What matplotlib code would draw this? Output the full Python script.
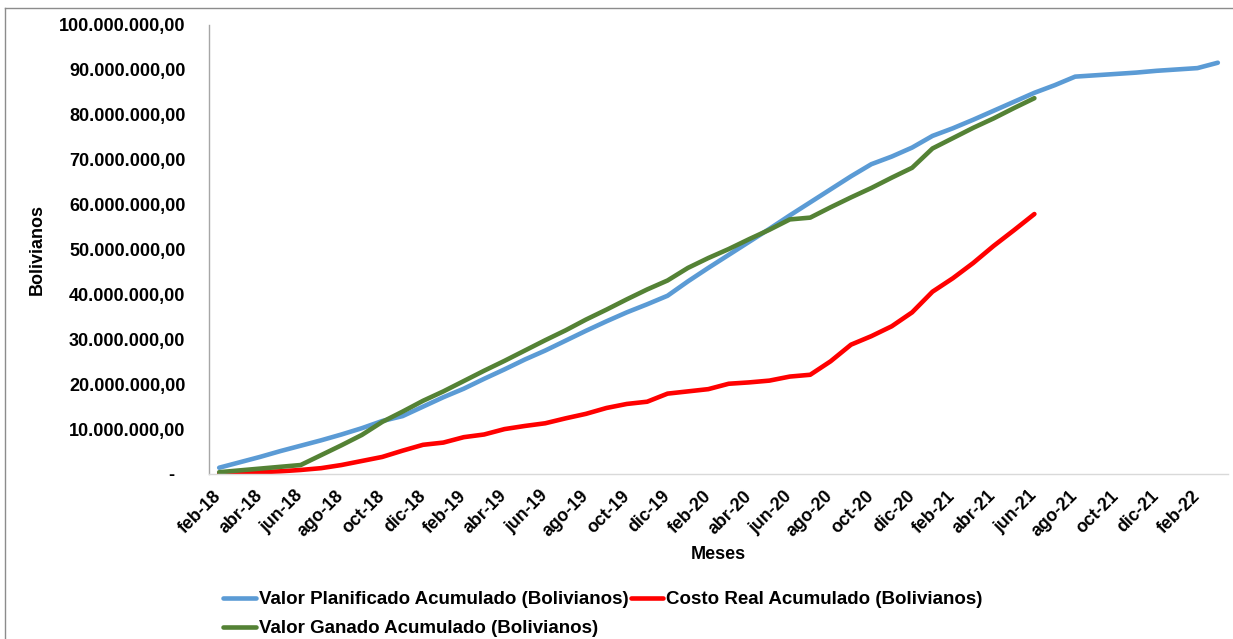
import matplotlib
matplotlib.use("Agg")
import matplotlib.pyplot as plt
from matplotlib.lines import Line2D
from matplotlib.ticker import FuncFormatter, MultipleLocator

# Monthly categories feb-18 .. mar-22
months_es = ["ene", "feb", "mar", "abr", "may", "jun", "jul", "ago", "sep", "oct", "nov", "dic"]
month_labels = []
m, y = 1, 18
for _ in range(50):
    month_labels.append(f"{months_es[m]}-{y}")
    m += 1
    if m == 12:
        m, y = 0, y + 1

# Cumulative values in millions of Bolivianos
valor_planificado = [1.4, 2.6, 3.8, 5.1, 6.3, 7.5, 8.8, 10.2, 11.8, 12.9,
                     15.0, 17.1, 19.0, 21.2, 23.3, 25.5, 27.5, 29.7, 31.9, 34.0,
                     36.0, 37.8, 39.7, 42.9, 45.9, 48.8, 51.7, 54.6, 57.6, 60.5,
                     63.4, 66.3, 69.0, 70.7, 72.7, 75.3, 77.0, 78.9, 80.9, 82.9,
                     84.9, 86.6, 88.5, 88.8, 89.1, 89.4, 89.8, 90.1, 90.4, 91.6]
costo_real = [0.1, 0.2, 0.4, 0.6, 0.9, 1.3, 2.0, 2.9, 3.8, 5.2,
              6.5, 7.0, 8.2, 8.8, 10.0, 10.7, 11.3, 12.4, 13.4, 14.7,
              15.6, 16.1, 17.9, 18.4, 18.9, 20.1, 20.4, 20.8, 21.7, 22.1,
              25.1, 28.8, 30.7, 32.9, 36.0, 40.6, 43.6, 47.0, 50.8, 54.3,
              57.9]
valor_ganado = [0.4, 0.8, 1.2, 1.6, 2.0, 4.2, 6.4, 8.7, 11.6, 13.9,
                16.3, 18.4, 20.7, 23.0, 25.2, 27.5, 29.8, 32.0, 34.4, 36.6,
                38.9, 41.1, 43.1, 45.9, 48.1, 50.1, 52.3, 54.4, 56.7, 57.1,
                59.4, 61.6, 63.7, 66.0, 68.2, 72.5, 74.8, 77.1, 79.2, 81.5,
                83.7]

series_names = ["Valor Planificado Acumulado (Bolivianos)",
                "Costo Real Acumulado (Bolivianos)",
                "Valor Ganado Acumulado (Bolivianos)"]
colors = ["#5B9BD5", "#FF0000", "#548235"]

plt.rcParams["font.family"] = ["Liberation Sans", "DejaVu Sans"]
plt.rcParams["font.weight"] = "bold"

W, H = 1233, 639
fig = plt.figure(figsize=(W / 100, H / 100), dpi=100)
ax = fig.add_axes([209 / W, 1 - 474 / H, (1228 - 209) / W, (474 - 25) / H])

def to_bs(vals):
    return [v * 1e6 for v in vals]

lw = 3.3
l_plan, = ax.plot(range(len(valor_planificado)), to_bs(valor_planificado),
                  color=colors[0], lw=lw, solid_capstyle="round", solid_joinstyle="round")
l_real, = ax.plot(range(len(costo_real)), to_bs(costo_real),
                  color=colors[1], lw=lw, solid_capstyle="round", solid_joinstyle="round")
l_gan, = ax.plot(range(len(valor_ganado)), to_bs(valor_ganado),
                 color=colors[2], lw=lw, solid_capstyle="round", solid_joinstyle="round")

ax.set_xlim(-0.5, len(month_labels) - 0.5)
ax.set_ylim(0, 100e6)

def fmt_bs(v, pos):
    if abs(v) < 1:
        return "-  "
    s = f"{v:,.2f}"
    return s.replace(",", "X").replace(".", ",").replace("X", ".")

ax.yaxis.set_major_locator(MultipleLocator(10e6))
ax.yaxis.set_major_formatter(FuncFormatter(fmt_bs))
ax.tick_params(axis="y", length=0, pad=17, labelsize=13)

tick_pos = list(range(0, len(month_labels), 2))
ax.set_xticks(tick_pos)
ax.set_xticklabels([month_labels[i] for i in tick_pos], rotation=45,
                   ha="right", va="center", rotation_mode="anchor")
ax.tick_params(axis="x", length=0, pad=14, labelsize=12.8)

for side in ["top", "right"]:
    ax.spines[side].set_visible(False)
ax.spines["left"].set_color("#A6A6A6")
ax.spines["left"].set_linewidth(1.0)
ax.spines["bottom"].set_color("#D9D9D9")
ax.spines["bottom"].set_linewidth(1.0)

ax.set_ylabel("Bolivianos", fontsize=13, fontweight="bold")
ax.yaxis.set_label_coords((46 - 209) / 1019, 0.5)
ax.set_xlabel("Meses", fontsize=13, fontweight="bold")
ax.xaxis.set_label_coords(0.5, (474 - 546) / 449)

fig.legend([l_plan, l_gan, l_real], [series_names[0], series_names[2], series_names[1]],
           ncol=2, loc="upper left", bbox_to_anchor=(214 / W, 1 - 582 / H),
           frameon=False, fontsize=13.5, handlelength=1.75, handletextpad=0.15,
           columnspacing=0.1, borderpad=0, labelspacing=0.62)

# outer chart border
fig.add_artist(Line2D([5 / W, 5 / W], [0, 1 - 8 / H], transform=fig.transFigure,
                      color="#8C8C8C", lw=1.0))
fig.add_artist(Line2D([5 / W, 1], [1 - 8 / H, 1 - 8 / H], transform=fig.transFigure,
                      color="#8C8C8C", lw=1.0))

fig.savefig("out.png", dpi=100, facecolor="white")
